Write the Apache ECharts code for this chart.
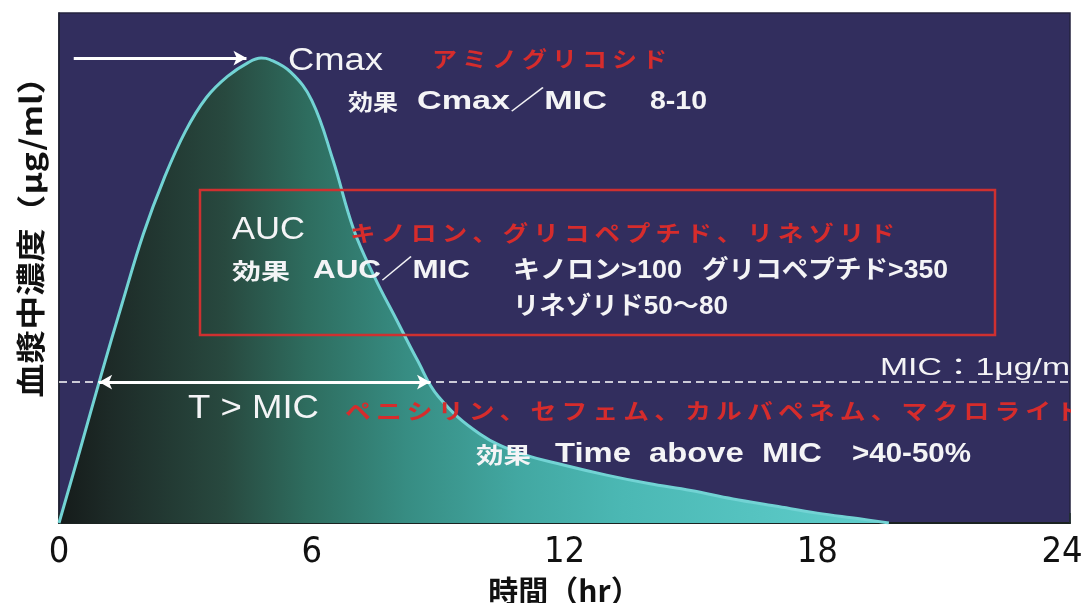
<!DOCTYPE html>
<html lang="ja">
<head>
<meta charset="utf-8">
<title>血漿中濃度の推移と PK/PD パラメータ</title>
<script src="https://cdn.jsdelivr.net/npm/echarts@6/dist/echarts.min.js"></script>
<style>
  html, body { margin: 0; padding: 0; background: #ffffff; }
  #chart { width: 1081px; height: 603px; }
</style>
</head>
<body>
<div id="chart"></div>
<script>
// Plasma concentration over time (hr) and the MIC threshold (µg/ml)
const hours = [0, 0.5, 1, 1.5, 2, 2.5, 3, 3.5, 4, 4.5, 4.8, 5, 5.5, 6, 6.5, 7, 7.5, 8, 8.5, 9,
               10, 11, 12, 13, 14, 15, 16, 17, 18, 19, 19.7];
const conc  = [0, 0.52, 1.05, 1.56, 2.05, 2.45, 2.78, 3.02, 3.17, 3.27, 3.30, 3.29, 3.20, 3.00, 2.58, 2.08, 1.74, 1.45, 1.16, 0.90,
               0.63, 0.49, 0.41, 0.34, 0.28, 0.23, 0.17, 0.12, 0.07, 0.03, 0];
const MIC = 1;
const xTicks = [0, 6, 12, 18, 24];

const curve = hours.map((h, i) => [h, conc[i]]);
const cmax = Math.max(...conc);
const tPeak = hours[conc.indexOf(cmax)];

// Times where the curve crosses the MIC (linear between neighbouring samples)
function crossings(level) {
  const out = [];
  for (let i = 1; i < hours.length; i++) {
    const a = conc[i - 1], b = conc[i];
    if ((a - level) * (b - level) < 0) {
      out.push(hours[i - 1] + (hours[i] - hours[i - 1]) * (level - a) / (b - a));
    }
  }
  return out;
}
const [tUp, tDown] = crossings(MIC);

const WHITE = '#f4f4f6';
const RED = '#d62c2c';
const LATIN = "'Liberation Sans', 'Noto Sans CJK JP', sans-serif";
const JP = "'Noto Sans CJK JP', 'Liberation Sans', sans-serif";

// Measure text so each annotation can be stretched to its box width
const mctx = document.createElement('canvas').getContext('2d');
function textWidth(text, size, weight, family) {
  mctx.font = weight + ' ' + size + 'px ' + family;
  return mctx.measureText(text).width;
}
const spaced = s => Array.from(s).join('\u2009');

// Annotation texts: left edge, target width, vertical centre, size
const notes = [
  { t: 'Cmax', x: 288, w: 95, y: 61, s: 31, c: WHITE, b: 'normal', f: LATIN },
  { t: spaced('アミノグリコシド'), x: 432, w: 235, y: 59, s: 22, c: RED, b: 'bold', f: JP },
  { t: '効果', x: 348, w: 50, y: 102, s: 22, c: WHITE, b: 'bold', f: JP },
  { t: 'Cmax／MIC', x: 417, w: 190, y: 102, s: 26, c: WHITE, b: 'bold', f: LATIN },
  { t: '8-10', x: 650, w: 57, y: 102, s: 26, c: WHITE, b: 'bold', f: LATIN },

  { t: 'AUC', x: 232, w: 73, y: 230, s: 31, c: WHITE, b: 'normal', f: LATIN },
  { t: spaced('キノロン、グリコペプチド、リネゾリド'), x: 350, w: 545, y: 233, s: 22, c: RED, b: 'bold', f: JP },
  { t: '効果', x: 232, w: 58, y: 271, s: 22, c: WHITE, b: 'bold', f: JP },
  { t: 'AUC／MIC', x: 313, w: 157, y: 271, s: 26, c: WHITE, b: 'bold', f: LATIN },
  { t: 'キノロン>100', x: 513, w: 169, y: 271, s: 25, c: WHITE, b: 'bold', f: LATIN },
  { t: 'グリコペプチド>350', x: 702, w: 246, y: 271, s: 25, c: WHITE, b: 'bold', f: LATIN },
  { t: 'リネゾリド50～80', x: 513, w: 215, y: 307, s: 25, c: WHITE, b: 'bold', f: LATIN },

  { t: 'T > MIC', x: 188, w: 131, y: 409, s: 33, c: WHITE, b: 'normal', f: LATIN },
  { t: spaced('ペニシリン、セフェム、カルバペネム、マクロライド'), x: 345, w: 737, y: 411, s: 22, c: RED, b: 'bold', f: JP },
  { t: '効果', x: 476, w: 55, y: 455, s: 22, c: WHITE, b: 'bold', f: JP },
  { t: 'Time  above  MIC', x: 555, w: 267, y: 455, s: 27, c: WHITE, b: 'bold', f: LATIN },
  { t: '>40-50%', x: 852, w: 119, y: 455, s: 27, c: WHITE, b: 'bold', f: LATIN },
  { t: 'MIC：1μg/ml', fit: 'MIC：1μg/m', x: 880, w: 190, y: 368, s: 24, c: WHITE, b: 'normal', f: LATIN }
];

const graphics = notes.map(n => ({
  type: 'text',
  x: n.x, y: n.y, z: 100,
  scaleX: n.w / textWidth(n.fit || n.t, n.s, n.b, n.f),
  silent: true,
  style: {
    text: n.t, fill: n.c, fontSize: n.s, fontWeight: n.b, fontFamily: n.f,
    align: 'left', verticalAlign: 'middle'
  }
}));

// Red frame around the AUC group
graphics.push({
  type: 'rect', z: 90, silent: true,
  shape: { x: 200, y: 190, width: 795, height: 145 },
  style: { fill: 'none', stroke: '#cf3030', lineWidth: 2.5 }
});

// Y axis title, reading bottom to top
const yTitle = '血漿中濃度（μg/ml）';
graphics.push({
  type: 'text', x: 31, y: 229, rotation: Math.PI / 2, z: 100, silent: true,
  scaleX: 337 / textWidth(yTitle, 29, 'bold', JP),
  style: { text: yTitle, fill: '#111111', fontSize: 29, fontWeight: 'bold', fontFamily: JP,
           align: 'center', verticalAlign: 'middle' }
});

// White margin on the right trims anything that runs past the plot frame
graphics.push({
  type: 'rect', z: 120, silent: true,
  shape: { x: 1071, y: 0, width: 10, height: 524 },
  style: { fill: '#ffffff' }
});

const lastTick = xTicks[xTicks.length - 1];
const chart = echarts.init(document.getElementById('chart'), null, { renderer: 'canvas' });
chart.setOption({
  animation: false,
  backgroundColor: '#ffffff',
  grid: {
    left: 59, right: 11, top: 13, bottom: 80,
    outerBoundsMode: 'none',
    containLabel: false,
    show: true, backgroundColor: '#322e5e', borderColor: '#25233f', borderWidth: 1.5
  },
  xAxis: {
    type: 'value', min: xTicks[0], max: lastTick, interval: 6,
    name: '時間（hr）', nameLocation: 'middle', nameGap: 42,
    nameTextStyle: { fontSize: 30, fontWeight: 'bold', color: '#111111', fontFamily: JP },
    axisLine: { show: true, lineStyle: { color: '#1b2321', width: 2 } },
    axisTick: { show: true, inside: true, length: 10, lineStyle: { color: '#22302e', width: 1.5 } },
    axisLabel: {
      color: '#111111', fontSize: 36, margin: 12,
      fontFamily: "'Liberation Sans Narrow', 'DejaVu Sans Condensed', 'Liberation Sans', sans-serif",
      formatter: v => (!xTicks.includes(v) ? '' : v === lastTick ? '{edge|' + v + '}' : String(v)),
      rich: {
        edge: {
          color: '#111111', fontSize: 36, padding: [0, 16, 0, 0],
          fontFamily: "'Liberation Sans Narrow', 'DejaVu Sans Condensed', 'Liberation Sans', sans-serif"
        }
      }
    },
    splitLine: { show: false }
  },
  yAxis: {
    type: 'value', min: 0, max: 3.62,
    axisLine: { show: true, lineStyle: { color: '#1f2230', width: 1.5 } },
    axisTick: { show: false }, axisLabel: { show: false }, splitLine: { show: false }
  },
  series: [{
    type: 'line',
    data: curve,
    smooth: 0.4,
    showSymbol: false,
    lineStyle: { color: '#72d3d4', width: 3 },
    areaStyle: {
      opacity: 1,
      color: new echarts.graphic.LinearGradient(0, 0, 1, 0, [
        { offset: 0.00, color: '#151b1a' },
        { offset: 0.06, color: '#1d2a27' },
        { offset: 0.20, color: '#28493f' },
        { offset: 0.30, color: '#2e6d5f' },
        { offset: 0.42, color: '#378d83' },
        { offset: 0.55, color: '#42a7a1' },
        { offset: 0.68, color: '#4bb8b4' },
        { offset: 1.00, color: '#60cfcd' }
      ])
    },
    markLine: {
      silent: true,
      animation: false,
      label: { show: false },
      symbol: ['none', 'none'],
      symbolSize: [11, 13],
      data: [
        // MIC threshold
        { yAxis: MIC, lineStyle: { color: '#ffffff', width: 1.5, type: [8, 5] } },
        // Cmax pointer
        [
          { coord: [0.35, cmax], symbol: 'none', lineStyle: { color: '#ffffff', width: 3, type: 'solid' } },
          { coord: [tPeak - 0.35, cmax], symbol: 'arrow' }
        ],
        // Time above MIC
        [
          { coord: [tUp, MIC], symbol: 'arrow', lineStyle: { color: '#ffffff', width: 3, type: 'solid' } },
          { coord: [tDown, MIC], symbol: 'arrow' }
        ]
      ]
    }
  }],
  graphic: graphics
});
</script>
</body>
</html>
